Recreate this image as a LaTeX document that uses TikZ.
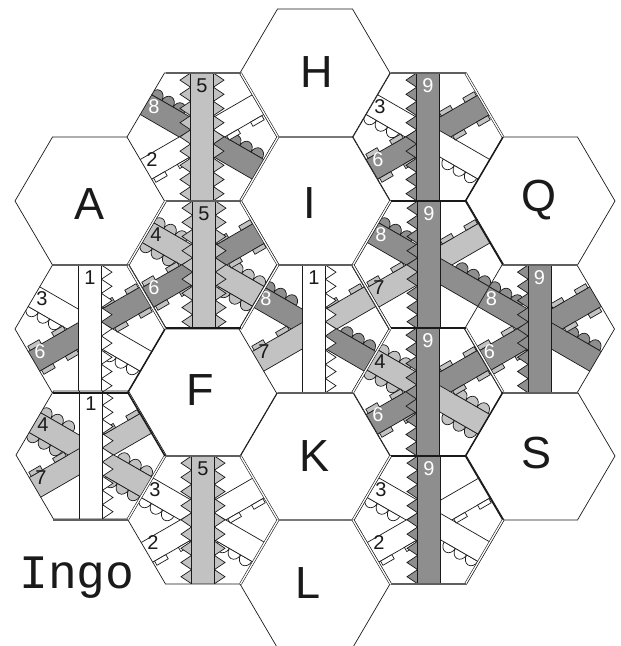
\documentclass[tikz,border=0pt]{standalone}
\usepackage{fontspec}
\setmainfont{Liberation Sans}
\newfontfamily\monof{Liberation Mono}
\definecolor{lg}{HTML}{C2C2C2}
\definecolor{dg}{HTML}{8E8E8E}
\definecolor{ink}{HTML}{1A1A1A}
\tikzset{
  hexline/.style={draw=ink,line width=.7pt},
  bandline/.style={draw=ink,line width=.7pt},
  dbl/.style={draw=ink,line width=.6pt,double=white,double distance=1.3pt},
  thk/.style={draw=ink,line width=1.5pt},
  bar/.style={draw=ink!70,line width=1.4pt},
  big/.style={font=\fontsize{45}{45}\selectfont,text=ink,inner sep=0pt},
  num/.style={font=\fontsize{20}{20}\selectfont,inner sep=0pt},
}
\newcommand\hexpath{(75,0)--(37.5,64)--(-37.5,64)--(-75,0)--(-37.5,-64)--(37.5,-64)--cycle}
\newcommand\UR{(37.5,64)--(75,0)}
\newcommand\LR{(75,0)--(37.5,-64)}
\newcommand\LL{(-75,0)--(-37.5,-64)}
\newcommand\UL{(-75,0)--(-37.5,64)}
\newcommand\TP{(-37.5,64)--(37.5,64)}
\newcommand\BT{(-37.5,-64)--(37.5,-64)}
\newcommand\hedge[4]{\draw[#4,shift={(#1,646-#2)}] #3;}
% band along local x axis
\newcommand\band[1]{\path[bandline,fill=#1] (-90,-11.4) rectangle (90,11.4);}
% one row of scallops on the upper (+) side: {fill}
\newcommand\scalls[1]{%
  \foreach \a in {-66,-53,-40,24,37,50}
    \path[bandline,fill=#1] (\a,11.4) arc (180:0:6.5 and 8) -- cycle;}
\newcommand\scallup[1]{\scalls{#1}}
\newcommand\scalldown[1]{\begin{scope}[yscale=-1]\scalls{#1}\end{scope}}
% one row of tabs on upper side
\newcommand\tabs[1]{%
  \foreach \a in {-56,-28.5,28.5,56}
    \path[bandline,fill=#1] (\a-6.5,11.4) rectangle (\a+6.5,16.2);}
\newcommand\tabup[1]{\tabs{#1}}
\newcommand\tabdown[1]{\begin{scope}[yscale=-1]\tabs{#1}\end{scope}}
% falling strips 3,4,8
\expandafter\newcommand\csname fall3\endcsname{\scalldown{white}\band{white}}
\expandafter\newcommand\csname fall4\endcsname{\scallup{lg}\scalldown{lg}\band{lg}}
\expandafter\newcommand\csname fall8\endcsname{\scallup{dg}\band{dg}}
% rising strips 2,6,7
\expandafter\newcommand\csname rband2\endcsname{\band{white}}
\expandafter\newcommand\csname rband6\endcsname{\band{dg}}
\expandafter\newcommand\csname rband7\endcsname{\band{lg}}
\expandafter\newcommand\csname rtab2\endcsname{\tabdown{white}}
\expandafter\newcommand\csname rtab6\endcsname{\tabup{lg}\tabdown{lg}}
\expandafter\newcommand\csname rtab7\endcsname{\tabup{lg}}
% teeth on one side; {sign}{fill}
\newcommand\teeth[2]{%
  \path[bandline,fill=#2] (#1*11.4,64)
    \foreach \k in {0,...,8} { -- (#1*22,64-\k*14.2-7.1) -- (#1*11.4,64-\k*14.2-14.2) };}
\newcommand\vstrip[1]{\path[bandline,fill=#1] (-11.4,-70) rectangle (11.4,70);}
\expandafter\newcommand\csname vert1\endcsname{\teeth{1}{white}\vstrip{white}}
\expandafter\newcommand\csname vert5\endcsname{\teeth{1}{lg}\teeth{-1}{lg}\vstrip{lg}}
\expandafter\newcommand\csname vert9\endcsname{\teeth{-1}{dg}\vstrip{dg}}
\newcommand\fl[1]{\begin{scope}[rotate=-30]\csname fall#1\endcsname\end{scope}}
\newcommand\rb[1]{\begin{scope}[rotate=30]\csname rband#1\endcsname\end{scope}}
\newcommand\rt[1]{\begin{scope}[rotate=30]\csname rtab#1\endcsname\end{scope}}
\newcommand\numcol[1]{\ifnum#1=6 white\else\ifnum#1=8 white\else\ifnum#1=9 white\else ink\fi\fi\fi}
% tile: cx cy vertical falling rising
\newcommand\tile[5]{%
  \begin{scope}[shift={(#1,646-#2)}]
    \fill[white] \hexpath;
    \begin{scope}
      \clip \hexpath;
      \begin{scope}\clip (-100,-100) rectangle (0,100);
        \fl{#4}\rb{#5}\rt{#5}\end{scope}
      \begin{scope}\clip (0,-100) rectangle (100,100);
        \rb{#5}\fl{#4}\rt{#5}\end{scope}
      \csname vert#3\endcsname
    \end{scope}
    \path[hexline] \hexpath;
    \node[num,text=\numcol{#3}] (n#1x#2v) at (0,51) {#3};
    \node[num,text=\numcol{#4}] (n#1x#2f) at (-48,30) {#4};
    \node[num,text=\numcol{#5}] (n#1x#2r) at (-50,-23) {#5};
  \end{scope}}
\newcommand\blank[2]{\path[hexline,shift={(#1,646-#2)}] \hexpath;}
\begin{document}
\begin{tikzpicture}[x=1pt,y=1pt]
\useasboundingbox (0,0) rectangle (621,646);
\fill[white] (0,0) rectangle (621,646);
\clip (0,0) rectangle (621,646);
\blank{90}{201}\blank{203}{392}\blank{315}{73}\blank{315}{201}
\blank{315}{456}\blank{315}{584}\blank{540}{201}\blank{540}{456}
\tile{202}{137}{5}{8}{2}
\tile{204}{265}{5}{4}{6}
\tile{203}{520}{5}{3}{2}
\tile{90}{329}{1}{3}{6}
\tile{91}{455}{1}{4}{7}
\tile{314}{329}{1}{8}{7}
\tile{428}{137}{9}{3}{6}
\tile{429}{265}{9}{8}{7}
\tile{428}{392}{9}{4}{6}
\tile{429}{520}{9}{3}{2}
\tile{539.5}{329}{9}{8}{6}
% doubled and heavy rims
\hedge{203}{137}{\UR}{dbl}\hedge{203}{137}{\LR}{dbl}
\hedge{203}{265}{\UR}{dbl}\hedge{203}{265}{\LR}{dbl}\hedge{203}{265}{\UL}{dbl}\hedge{203}{265}{\LL}{dbl}
\hedge{90}{329}{\UR}{dbl}\hedge{90}{329}{\LR}{thk}
\hedge{90}{456}{\LR}{dbl}\hedge{90}{456}{\UR}{thk}
\hedge{203}{520}{\UR}{dbl}\hedge{203}{520}{\LR}{dbl}
\hedge{315}{329}{\UR}{dbl}\hedge{315}{329}{\LR}{dbl}
\hedge{428}{137}{\UR}{dbl}\hedge{428}{137}{\LR}{thk}
\hedge{428}{265}{\UL}{dbl}\hedge{428}{265}{\LL}{dbl}\hedge{428}{265}{\UR}{thk}
\hedge{428}{392}{\UR}{dbl}\hedge{428}{392}{\LR}{thk}
\hedge{428}{520}{\UL}{dbl}\hedge{428}{520}{\LL}{dbl}\hedge{428}{520}{\UR}{thk}\hedge{428}{520}{\LR}{dbl}
\hedge{203}{137}{\TP}{bar}\hedge{203}{265}{\TP}{bar}\hedge{203}{392}{\TP}{thk}\hedge{203}{392}{\BT}{bar}
\hedge{90}{329}{\TP}{bar}\hedge{90}{329}{\BT}{thk}\hedge{90}{456}{\BT}{bar}
\hedge{315}{329}{\TP}{bar}\hedge{315}{329}{\BT}{bar}
\hedge{428}{137}{\TP}{bar}\hedge{428}{137}{\BT}{thk}\hedge{428}{392}{\TP}{thk}\hedge{428}{392}{\BT}{thk}\hedge{428}{520}{\BT}{bar}
\hedge{540}{329}{\TP}{bar}\hedge{540}{329}{\BT}{bar}
% letters
\node[big] (lA) at (90,442) {A};
\node[big] (lF) at (200,256) {F};
\node[big] (lH) at (317,574) {H};
\node[big] (lI) at (310,443) {I};
\node[big] (lK) at (315,190) {K};
\node[big] (lL) at (308,63) {L};
\node[big] (lQ) at (539,446) {Q};
\node[big] (lS) at (537,193) {S};
\node[font=\monof\fontsize{48}{48}\selectfont,text=ink,inner sep=0pt] (title) at (77,68) {Ingo};
\end{tikzpicture}
\end{document}
